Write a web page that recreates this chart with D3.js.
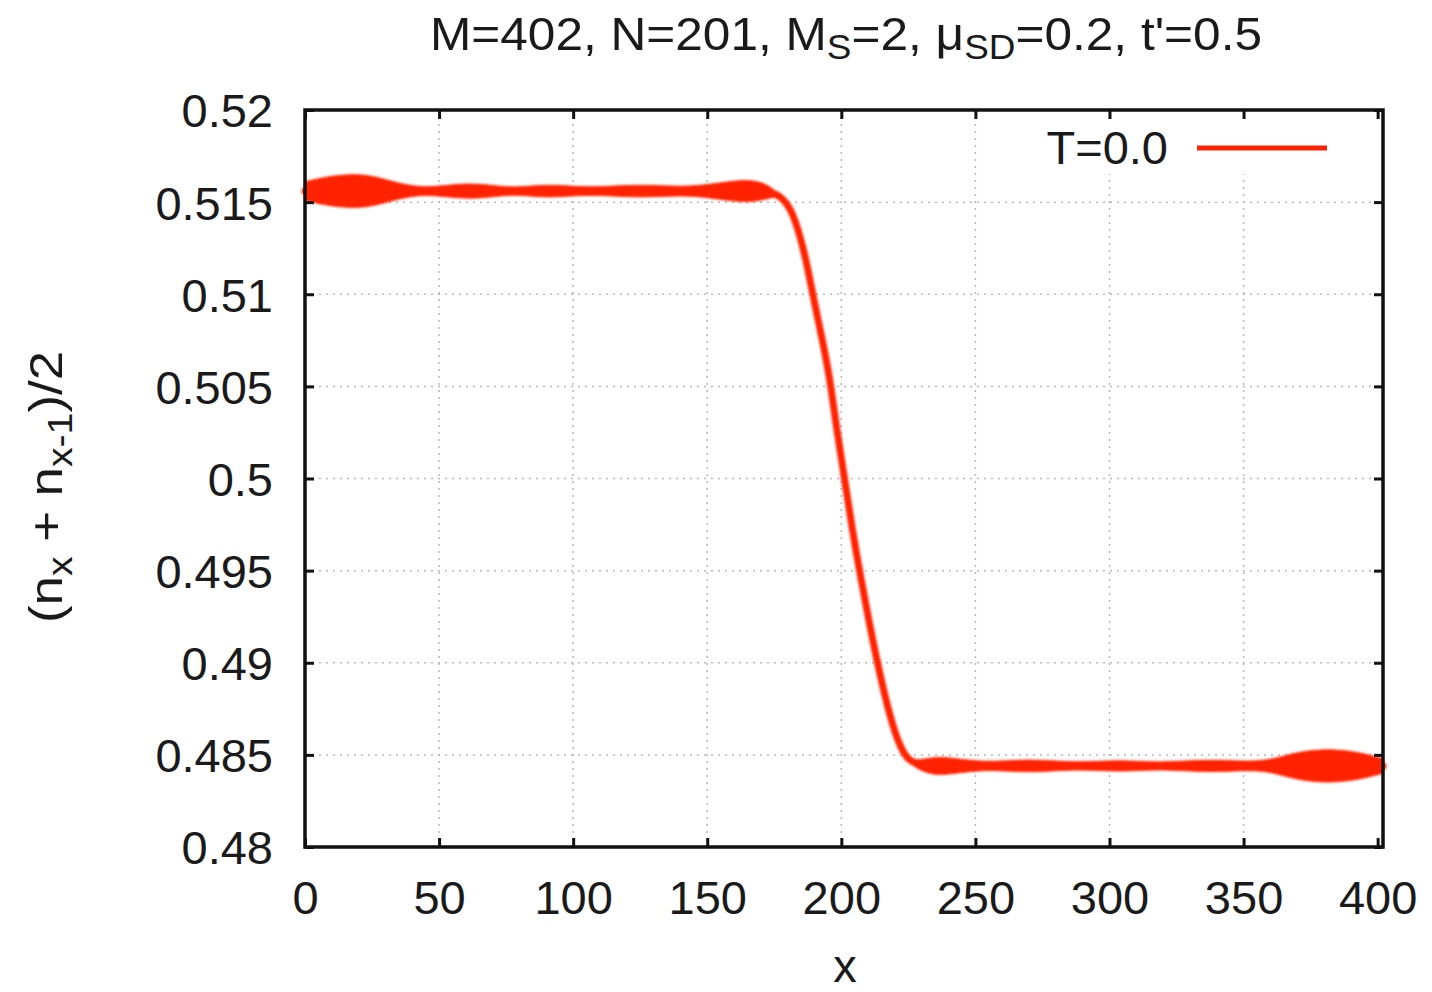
<!DOCTYPE html>
<html>
<head>
<meta charset="utf-8">
<script src="https://cdn.jsdelivr.net/npm/d3@7"></script>
<style>
  html, body { margin: 0; padding: 0; background: #fff; }
  svg { display: block; }
  text { font-family: "Liberation Sans", Arial, Helvetica, sans-serif; fill: #1a1a1a; }
</style>
</head>
<body>
<svg id="chart" width="1432" height="992"></svg>
<script>
// ---- data ----
const xTicks = [0, 50, 100, 150, 200, 250, 300, 350, 400];
const yTicks = [0.48, 0.485, 0.49, 0.495, 0.5, 0.505, 0.51, 0.515, 0.52];
const yTickLabels = ["0.48", "0.485", "0.49", "0.495", "0.5", "0.505", "0.51", "0.515", "0.52"];

// mean density profile (x position) and its value
const profileX = [0, 8, 17, 25, 35, 45, 58, 68, 78, 91, 106, 125, 144, 163, 172, 177, 181, 184, 187, 190,
                  193, 196, 198, 201, 204, 207, 210, 213, 217, 221, 225, 231, 237, 253, 270, 287, 304,
                  318, 338, 357, 368, 379, 390, 398, 402];
const profileMean = [0.5156, 0.5156, 0.5156, 0.5156, 0.5156, 0.5156, 0.5156, 0.5156, 0.5156, 0.5156,
                     0.5156, 0.5156, 0.5156, 0.5156, 0.5156, 0.5154, 0.5147, 0.5135, 0.5118, 0.5095,
                     0.5075, 0.5052, 0.5029, 0.5002, 0.4973, 0.4948, 0.4925, 0.4903, 0.4877, 0.4857,
                     0.4846, 0.4844, 0.4844, 0.4844, 0.4844, 0.4844, 0.4844, 0.4844, 0.4844, 0.4844,
                     0.4844, 0.4844, 0.4844, 0.4844, 0.4844];
// envelope half-amplitude of the fast site-to-site oscillation
const profileAmp = [0.00050, 0.00078, 0.00092, 0.00085, 0.00040, 0.00015, 0.00042, 0.00036, 0.00015, 0.00040,
                    0.00015, 0.00040, 0.00015, 0.00068, 0.00045, 0.00000, 0.00000, 0.00000, 0.00000, 0.00000,
                    0.00000, 0.00000, 0.00000, 0.00000, 0.00000, 0.00000, 0.00000, 0.00000, 0.00000, 0.00000,
                    0.00008, 0.00035, 0.00055, 0.00015, 0.00040, 0.00015, 0.00034, 0.00015, 0.00038, 0.00015,
                    0.00070, 0.00092, 0.00082, 0.00055, 0.00040];

const seriesName = "T=0.0";

// ---- layout ----
const svg = d3.select("#chart");
const L = 305, R = 1383, T = 110, B = 847;
const red = "#ff2200";
const fontSize = 47, subSize = 35;

const x = d3.scaleLinear().domain([0, 402]).range([L, R]);
const y = d3.scaleLinear().domain([0.48, 0.52]).range([B, T]);

const data = profileX.map((d, i) => ({x: d, m: profileMean[i], a: profileAmp[i]}));

const defs = svg.append("defs");
defs.append("filter").attr("id", "soft").append("feGaussianBlur").attr("stdDeviation", 0.9);

// grid
const grid = svg.append("g");
xTicks.filter(t => t > 0 && t < 400).forEach(t => {
  grid.append("line").attr("x1", x(t)).attr("x2", x(t)).attr("y1", T).attr("y2", B)
    .attr("stroke", "#b8b8b8").attr("stroke-width", 1.5).attr("stroke-dasharray", "2,5");
});
yTicks.filter(t => t > 0.48 && t < 0.52).forEach(t => {
  grid.append("line").attr("x1", L).attr("x2", R).attr("y1", y(t)).attr("y2", y(t))
    .attr("stroke", "#b8b8b8").attr("stroke-width", 1.5).attr("stroke-dasharray", "2,5");
});

// legend background (opaque key)
svg.append("rect").attr("x", 1025).attr("y", 122).attr("width", 325).attr("height", 52).attr("fill", "#fff");

// oscillation band + mean line
const g = svg.append("g").attr("filter", "url(#soft)");
const area = d3.area().x(d => x(d.x)).y0(d => y(d.m - d.a)).y1(d => y(d.m + d.a)).curve(d3.curveBasis);
g.append("path").datum(data).attr("d", area).attr("fill", red).attr("stroke", red).attr("stroke-width", 1);
const line = d3.line().x(d => x(d.x)).y(d => y(d.m)).curve(d3.curveBasis);
g.append("path").datum(data).attr("d", line).attr("fill", "none").attr("stroke", red)
  .attr("stroke-width", 7).attr("stroke-linejoin", "round").attr("stroke-linecap", "round");

// axes (inward ticks, mirrored)
const axB = svg.append("g").attr("transform", `translate(0,${B})`)
  .call(d3.axisBottom(x).tickValues(xTicks).tickSize(-9).tickPadding(33).tickFormat(d3.format("d")));
const axT = svg.append("g").attr("transform", `translate(0,${T})`)
  .call(d3.axisTop(x).tickValues(xTicks).tickSize(-9).tickFormat(""));
const axLf = svg.append("g").attr("transform", `translate(${L},0)`)
  .call(d3.axisLeft(y).tickValues(yTicks).tickSize(-9).tickPadding(32).tickFormat((d, i) => yTickLabels[i]));
const axRt = svg.append("g").attr("transform", `translate(${R},0)`)
  .call(d3.axisRight(y).tickValues(yTicks).tickSize(-9).tickFormat(""));
[axB, axT, axLf, axRt].forEach(a => {
  a.select(".domain").remove();
  a.selectAll(".tick line").attr("stroke", "#111").attr("stroke-width", 3);
  a.selectAll("text").attr("font-size", fontSize).attr("fill", "#1a1a1a")
    .style("font-family", '"Liberation Sans", Arial, sans-serif');
});
axB.selectAll("text").attr("dy", "0.72em");
axLf.selectAll("text").attr("dy", "0.36em");

// frame
svg.append("rect").attr("x", L).attr("y", T).attr("width", R - L).attr("height", B - T)
  .attr("fill", "none").attr("stroke", "#111").attr("stroke-width", 3.5);

// legend
svg.append("text").attr("x", 1168).attr("y", 164).attr("text-anchor", "end")
  .attr("font-size", fontSize).text(seriesName);
svg.append("line").attr("x1", 1197).attr("x2", 1327).attr("y1", 148).attr("y2", 148)
  .attr("stroke", red).attr("stroke-width", 5);

// title
const title = svg.append("text").attr("x", 846).attr("y", 50).attr("text-anchor", "middle")
  .attr("font-size", fontSize).attr("textLength", 832).attr("lengthAdjust", "spacingAndGlyphs");
title.append("tspan").text("M=402, N=201, M");
title.append("tspan").attr("font-size", subSize).attr("dy", 9).text("S");
title.append("tspan").attr("dy", -9).text("=2, μ");
title.append("tspan").attr("font-size", subSize).attr("dy", 9).text("SD");
title.append("tspan").attr("dy", -9).text("=0.2, t'=0.5");

// x label
svg.append("text").attr("x", 845).attr("y", 982).attr("text-anchor", "middle").attr("font-size", fontSize).text("x");

// y label
const yl = svg.append("text").attr("transform", "translate(62,487) rotate(-90)")
  .attr("text-anchor", "middle").attr("font-size", fontSize)
  .attr("textLength", 272).attr("lengthAdjust", "spacingAndGlyphs");
yl.append("tspan").text("(n");
yl.append("tspan").attr("font-size", subSize).attr("dy", 10).text("x");
yl.append("tspan").attr("dy", -10).text(" + n");
yl.append("tspan").attr("font-size", subSize).attr("dy", 10).text("x-1");
yl.append("tspan").attr("dy", -10).text(")/2");
</script>
</body>
</html>
